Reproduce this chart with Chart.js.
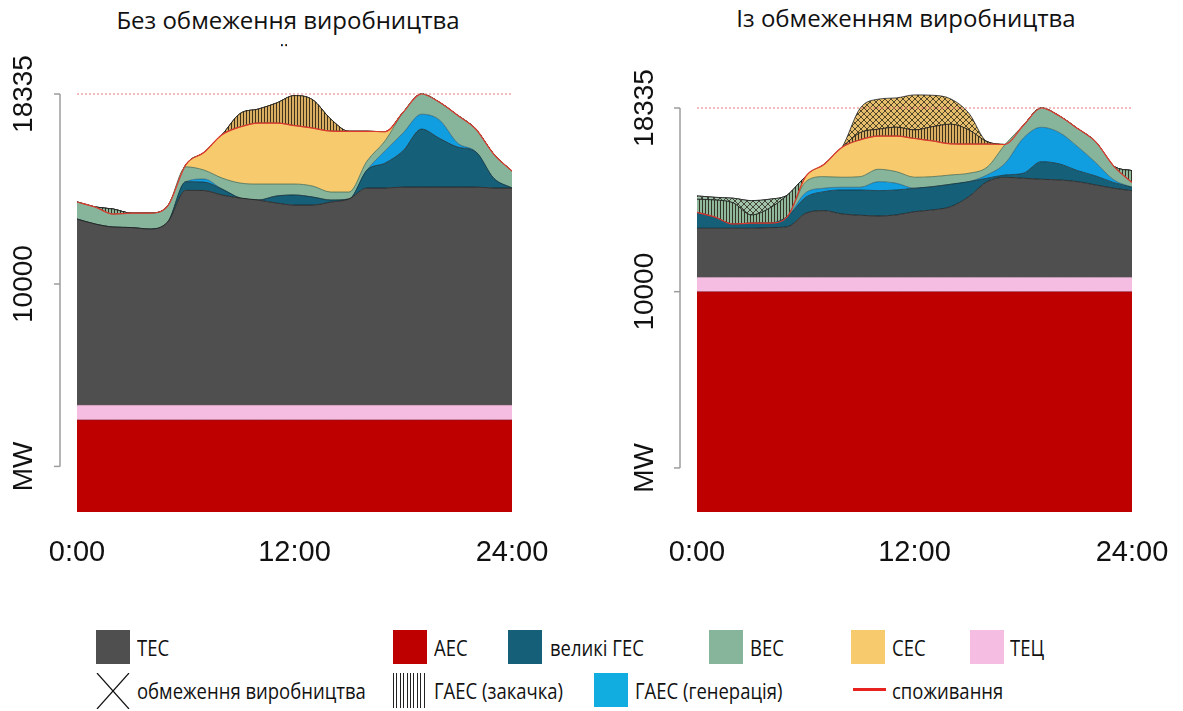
<!DOCTYPE html>
<html lang="uk"><head><meta charset="utf-8"><title>Генерація</title>
<script src="https://cdn.jsdelivr.net/npm/chart.js@4.4.1/dist/chart.umd.min.js"></script>
<style>
html,body{margin:0;padding:0;background:#fff;}
body{width:1183px;height:711px;position:relative;overflow:hidden;font-family:"Open Sans","Noto Sans",sans-serif;color:#111;}
canvas{position:absolute;top:0;}
#cL{left:0;}
#cR{left:600px;}
.title{position:absolute;font-size:24px;line-height:30px;white-space:nowrap;transform:translateX(-50%);}
.frag{position:absolute;left:281px;top:37px;height:11px;overflow:hidden;font-size:24px;line-height:30px;}
.sw{position:absolute;width:34px;height:34px;}
.lt{position:absolute;font-size:21px;line-height:26px;white-space:nowrap;transform:scaleX(0.88);transform-origin:0 50%;}
</style></head>
<body>
<div class="title" style="left:288px;top:5px">Без обмеження виробництва</div>
<div class="frag">ї</div>
<div class="title" style="left:906px;top:3px">Із обмеженням виробництва</div>
<canvas id="cL" width="600" height="600"></canvas>
<canvas id="cR" width="583" height="600"></canvas>

<div class="sw" style="left:96px;top:630px;background:#4f4f4f"></div><div class="lt" style="left:137px;top:635px">ТЕС</div>
<div class="sw" style="left:393px;top:630px;background:#bf0000"></div><div class="lt" style="left:434px;top:635px">АЕС</div>
<div class="sw" style="left:508px;top:630px;background:#165f78"></div><div class="lt" style="left:550px;top:635px">великі ГЕС</div>
<div class="sw" style="left:709px;top:630px;background:#86b59b"></div><div class="lt" style="left:750px;top:635px">ВЕС</div>
<div class="sw" style="left:851px;top:630px;background:#f7ca6e"></div><div class="lt" style="left:892px;top:635px">СЕС</div>
<div class="sw" style="left:970px;top:630px;background:#f5bde1"></div><div class="lt" style="left:1010px;top:635px">ТЕЦ</div>

<svg style="position:absolute;left:96px;top:673px" width="34" height="36"><line x1="1" y1="0" x2="33" y2="36" stroke="#111" stroke-width="1.2"/><line x1="33" y1="0" x2="1" y2="36" stroke="#111" stroke-width="1.2"/></svg>
<div class="lt" style="left:137px;top:678px">обмеження виробництва</div>
<div class="sw" style="left:393px;top:673px;height:35px;background:repeating-linear-gradient(90deg,#222 0 1px,#fff 1px 3.4px)"></div>
<div class="lt" style="left:434px;top:678px">ГАЕС (закачка)</div>
<div class="sw" style="left:594px;top:673px;background:#12ade0"></div>
<div class="lt" style="left:635px;top:678px">ГАЕС (генерація)</div>
<div style="position:absolute;left:853px;top:688px;width:33px;height:3px;background:#e8231f"></div>
<div class="lt" style="left:892px;top:678px">споживання</div>

<script>
// ---------- data (MW, hourly 0:00 .. 24:00) ----------
const HOURS = [0,1,2,3,4,5,6,7,8,9,10,11,12,13,14,15,16,17,18,19,20,21,22,23,24];
const X_TICKS = [0,12,24];
const X_TICK_LABELS = ['0:00','12:00','24:00'];
const Y_TICKS = [2000,10000,18335];
const Y_TICK_LABELS = ['MW','10000','18335'];
const PEAK = [18335,18335];
const PEAK_HOURS = [0,24];
const CONSUMPTION = [13600,13380,13070,13110,13110,13420,15230,15770,16550,16890,17060,17060,16950,16840,16710,16700,16700,16680,17540,18335,17970,17400,16800,15690,14950];

// left: without restriction
const L_AES   = [4040,4040,4040,4040,4040,4040,4040,4040,4040,4040,4040,4040,4040,4040,4040,4040,4040,4040,4040,4040,4040,4040,4040,4040,4040];
const L_TEC   = [650,650,650,650,650,650,650,650,650,650,650,650,650,650,650,650,650,650,650,650,650,650,650,650,650];
const L_TES   = [8161,7942,7810,7788,7722,8029,9420,9411,9214,9082,8994,8863,8775,8775,8906,9038,9521,9521,9564,9564,9564,9564,9564,9521,9521];
const L_HPP   = [0,0,0,0,0,0,380,373,263,0,0,307,439,351,88,0,789,1096,1600,2544,2136,1754,1548,425,0];
const L_PSPG  = [0,0,0,0,0,0,0,132,0,0,0,0,0,0,0,0,0,539,780,650,803,175,0,0,0];
const L_WIND  = [749,748,570,632,698,701,650,395,482,658,702,526,482,482,351,307,395,439,906,887,777,1217,998,1054,739];
const L_SOLAR = [0,0,0,0,0,0,90,769,1901,2460,2674,2674,2564,2542,2675,2665,1305,395,0,0,0,0,0,0,0];
const L_PUMP_W = [0,0,219,0,0,0,0,0,0,0,0,0,0,0,0,0,0,0,0,0,0,0,0,0,0];
const L_PUMP_S = [0,0,0,0,0,0,0,0,0,588,614,877,1316,1243,526,0,0,0,0,0,0,0,0,0,0];
const L_RESTR_W = [0,0,0,0,0,0,0,0,0,0,0,0,0,0,0,0,0,0,0,0,0,0,0,0,0];
const L_RESTR_S = [0,0,0,0,0,0,0,0,0,0,0,0,0,0,0,0,0,0,0,0,0,0,0,0,0];

// right: with restriction
const R_AES   = [10000,10000,10000,10000,10000,10000,10000,10000,10000,10000,10000,10000,10000,10000,10000,10000,10000,10000,10000,10000,10000,10000,10000,10000,10000];
const R_TEC   = [650,650,650,650,650,650,650,650,650,650,650,650,650,650,650,650,650,650,650,650,650,650,650,650,650];
const R_TES   = [2228,2228,2228,2228,2255,2301,2909,3027,2877,2818,2786,2832,2981,3059,3208,3662,4343,4543,4498,4452,4420,4343,4193,4044,3935];
const R_HPP   = [722,502,192,232,205,469,726,862,1089,1148,1149,1134,1063,1057,1017,681,155,104,227,799,727,500,409,254,154];
const R_PSPG  = [0,0,0,0,0,0,209,155,123,123,408,304,0,0,0,0,149,531,1589,1562,1420,1089,604,122,0];
const R_WIND  = [0,0,0,0,0,0,499,526,454,481,563,527,499,454,422,382,350,852,576,872,753,818,944,620,211];
const R_SOLAR = [0,0,0,0,0,0,237,550,1357,1670,1504,1613,1757,1620,1413,1325,1053,0,0,0,0,0,0,0,0];
const R_PUMP_W = [595,781,958,372,676,971,0,0,0,0,0,0,0,0,0,0,0,0,0,0,0,0,0,0,543];
const R_PUMP_S = [0,0,0,0,0,0,0,0,0,327,313,404,390,649,890,640,109,0,0,0,0,0,0,0,0];
const R_RESTR_W = [150,120,213,649,409,0,0,0,0,0,0,0,0,0,0,0,0,0,0,0,0,0,0,0,0];
const R_RESTR_S = [0,0,0,0,0,0,0,0,0,1108,1362,1330,1589,1425,1148,758,0,0,0,0,0,0,0,0,0];

// ---------- styling ----------
function pattern(bg, kind) {
  const c = document.createElement('canvas');
  const g = c.getContext('2d');
  if (kind === 'v') {
    c.width = 3; c.height = 4;
    g.fillStyle = bg; g.fillRect(0, 0, 3, 4);
    g.fillStyle = 'rgba(35,28,15,0.85)'; g.fillRect(0, 0, 1, 4);
  } else {
    c.width = 6; c.height = 6;
    g.fillStyle = bg; g.fillRect(0, 0, 6, 6);
    g.strokeStyle = 'rgba(35,32,20,0.85)'; g.lineWidth = 0.9;
    g.beginPath();
    for (const k of [-6, 0, 6]) {
      g.moveTo(k, 0); g.lineTo(k + 6, 6);
      g.moveTo(k + 6, 0); g.lineTo(k, 6);
    }
    g.stroke();
  }
  return g.createPattern(c, 'repeat');
}

function pts(arr, hours) { return arr.map((v, i) => ({x: (hours || HOURS)[i], y: v})); }

function layer(label, arr, bg, border, fill, bw) {
  return {
    label, data: pts(arr), backgroundColor: bg, borderColor: border,
    borderWidth: bw, fill, stack: 'gen', pointRadius: 0,
    cubicInterpolationMode: 'monotone'
  };
}

function datasets(S) {
  return [
    layer('АЕС', S.aes, '#bf0000', 'rgba(120,20,40,0.7)', 'origin', 0.8),
    layer('ТЕЦ', S.tec, '#f5bde1', 'rgba(120,90,110,0.6)', '-1', 0.8),
    layer('ТЕС', S.tes, '#4f4f4f', 'rgba(30,30,30,0.8)', '-1', 1),
    layer('великі ГЕС', S.hpp, '#165f78', 'rgba(15,40,50,0.7)', '-1', 1),
    layer('ГАЕС (генерація)', S.pspg, '#119ee0', 'rgba(15,40,50,0.55)', '-1', 0.8),
    layer('ВЕС', S.wind, '#86b59b', 'rgba(60,95,70,0.7)', '-1', 1),
    layer('СЕС', S.solar, '#f7ca6e', 'rgba(170,110,50,0.8)', '-1', 1),
    layer('ГАЕС (закачка) ВЕС', S.pumpW, pattern('#8fb89c', 'v'), 'rgba(30,30,30,0.8)', '-1', 1),
    layer('ГАЕС (закачка)', S.pumpS, pattern('#d9ae62', 'v'), 'rgba(30,30,30,0.8)', '-1', 1),
    layer('обмеження ВЕС', S.restrW, pattern('#a2c4aa', 'x'), 'rgba(30,30,30,0.8)', '-1', 1),
    layer('обмеження виробництва', S.restrS, pattern('#e6be6c', 'x'), 'rgba(30,30,30,0.8)', '-1', 1),
    { label: 'споживання', data: pts(CONSUMPTION), borderColor: '#dc3a30', borderWidth: 1.2,
      fill: false, stack: 'cons', pointRadius: 0, cubicInterpolationMode: 'monotone', order: -1 },
    { label: 'пік', data: pts(PEAK, PEAK_HOURS), borderColor: '#e57878', borderWidth: 1,
      borderDash: [2, 2], fill: false, stack: 'peak', pointRadius: 0, order: -2 }
  ];
}

const axesPlugin = {
  id: 'rAxes',
  afterDraw(chart, args, o) {
    const {ctx, scales: {x, y}} = chart;
    ctx.save();
    ctx.strokeStyle = '#9c9c9c'; ctx.lineWidth = 1.5;
    ctx.beginPath();
    ctx.moveTo(o.axisX, y.getPixelForValue(Y_TICKS[0]));
    ctx.lineTo(o.axisX, y.getPixelForValue(Y_TICKS[Y_TICKS.length - 1]));
    ctx.stroke();
    ctx.fillStyle = '#111';
    ctx.font = '28px "Liberation Sans", Arial, sans-serif';
    ctx.textAlign = 'center'; ctx.textBaseline = 'middle';
    Y_TICKS.forEach((v, i) => {
      const py = y.getPixelForValue(v);
      ctx.beginPath(); ctx.moveTo(o.axisX, py); ctx.lineTo(o.axisX - 6, py); ctx.stroke();
      ctx.save(); ctx.translate(o.labelX, py); ctx.rotate(-Math.PI / 2);
      ctx.fillText(Y_TICK_LABELS[i], 0, 0); ctx.restore();
    });
    ctx.font = '29px "Liberation Sans", Arial, sans-serif';
    X_TICKS.forEach((h, i) => ctx.fillText(X_TICK_LABELS[i], x.getPixelForValue(h), o.xLabelY));
    ctx.restore();
  }
};

function makeChart(id, S, pad, ymax, axisOpts) {
  return new Chart(document.getElementById(id), {
    type: 'line',
    data: { datasets: datasets(S) },
    plugins: [axesPlugin],
    options: {
      responsive: false, animation: false, events: [],
      layout: { padding: pad },
      plugins: { legend: { display: false }, tooltip: { enabled: false }, rAxes: axisOpts },
      scales: {
        x: { type: 'linear', min: 0, max: 24, display: false },
        y: { stacked: true, min: 0, max: ymax, display: false }
      }
    }
  });
}

makeChart('cL', {aes: L_AES, tec: L_TEC, tes: L_TES, hpp: L_HPP, pspg: L_PSPG, wind: L_WIND, solar: L_SOLAR,
  pumpW: L_PUMP_W, pumpS: L_PUMP_S, restrW: L_RESTR_W, restrS: L_RESTR_S},
  {left: 77, right: 88, top: 60, bottom: 88}, 19827, {axisX: 60, labelX: 24, xLabelY: 553});

makeChart('cR', {aes: R_AES, tec: R_TEC, tes: R_TES, hpp: R_HPP, pspg: R_PSPG, wind: R_WIND, solar: R_SOLAR,
  pumpW: R_PUMP_W, pumpS: R_PUMP_S, restrW: R_RESTR_W, restrS: R_RESTR_S},
  {left: 97, right: 51, top: 60, bottom: 88}, 20514, {axisX: 80, labelX: 45, xLabelY: 553});
</script>
</body></html>
